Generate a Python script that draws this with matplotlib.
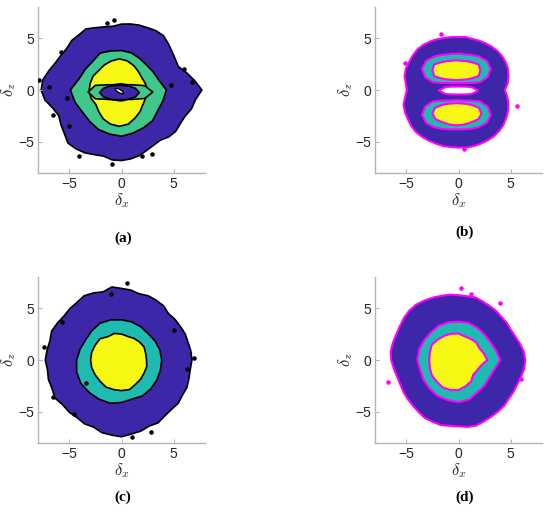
import numpy as np
import matplotlib
matplotlib.use('Agg')
import matplotlib.pyplot as plt

plt.rcParams['font.family'] = 'Liberation Sans'
plt.rcParams['mathtext.fontset'] = 'cm'

# Each region boundary: radius read at evenly spaced angles (starting at 0 deg,
# counter-clockwise) around a centre (delta_x, delta_z).

# ---- panel (a) ----
a_outer_c = (0.0, 0.0)
a_outer_r = [7.7, 7.05, 6.45, 5.9, 5.95, 6.1, 6.33, 6.6, 6.6, 6.5, 6.48, 6.42,
             6.35, 6.2, 6.3, 6.5, 6.8, 6.7, 6.75, 6.6, 6.7, 6.85, 7.2, 7.6,
             7.7, 7.4, 6.8, 6.5, 6.7, 6.9, 7.25, 7.15, 7.0, 6.75, 6.6, 6.8,
             6.8, 6.7, 6.55, 6.3, 6.15, 6.1, 6.4, 6.55, 6.5, 6.6, 6.95, 7.15]
a_green_c = (0.0, 0.0)
a_green_r = [4.3, 3.7, 3.5, 3.4, 3.5, 3.7, 3.8, 3.9, 4.1, 3.9, 4.0, 4.2,
             4.9, 4.6, 4.3, 4.3, 4.4, 4.4, 4.45, 4.3, 4.2, 4.2, 4.0, 4.1]
a_yellow_c = (-0.2, -0.1)
a_yellow_r = [2.7, 2.6, 2.5, 2.6, 2.8, 3.0, 3.1, 3.0, 2.9, 2.8, 2.9, 2.9,
              2.9, 2.8, 2.6, 2.8, 3.1, 3.3, 3.4, 3.3, 3.0, 2.8, 2.6, 2.6]
a_band_c = (-0.1, -0.2)
a_band_r = [3.1, 2.4, 1.4, 1.0, 0.85, 0.8, 0.8, 0.8, 0.85, 1.0, 1.4, 2.5,
            3.1, 2.5, 1.4, 1.05, 0.9, 0.85, 0.85, 0.85, 0.9, 1.0, 1.4, 2.4]
a_blue_c = (-0.2, -0.25)
a_blue_r = [1.9, 1.59, 1.18, 0.93, 0.79, 0.72, 0.7, 0.72, 0.79, 0.93, 1.18, 1.59,
            1.9, 1.59, 1.18, 0.93, 0.79, 0.72, 0.7, 0.72, 0.79, 0.93, 1.18, 1.59]
a_hole_c = (-0.2, -0.1)
a_hole_r = [0.26, 0.2, 0.17, 0.155, 0.15, 0.155, 0.17, 0.2, 0.26, 0.36, 0.45, 0.36,
            0.26, 0.2, 0.17, 0.155, 0.15, 0.155, 0.17, 0.2, 0.26, 0.36, 0.45, 0.36]
a_dots_x = [-0.73, -1.37, -5.8, -6.9, -7.9, -6.6, -5.0, -4.1, -0.9, 2.0, 2.9, 6.75, 5.95, 4.7, -5.2]
a_dots_z = [6.76, 6.5, 3.65, 0.3, 0.95, -2.4, -3.5, -6.35, -7.1, -6.35, -6.2, 0.8, 2.06, 0.48, -0.8]

# ---- panel (b) ----
b_outer_c = (0.0, 0.0)
b_outer_r = [4.45, 4.75, 4.95, 5.15, 5.25, 5.3, 5.3, 5.25, 5.2, 5.15, 5.1, 5.15,
             5.1, 5.15, 5.2, 5.3, 5.4, 5.5, 5.55, 5.5, 5.45, 5.45, 5.35, 5.1,
             4.95, 5.15, 5.45, 5.55, 5.6, 5.7, 5.75, 5.7, 5.65, 5.6, 5.6, 5.55,
             5.55, 5.6, 5.6, 5.6, 5.6, 5.6, 5.55, 5.45, 5.3, 5.15, 4.95, 4.7]
b_hole_c = (0.0, -0.05)
b_hole_r = [1.9, 1.3, 0.75, 0.53, 0.44, 0.4, 0.38, 0.4, 0.44, 0.53, 0.75, 1.3,
            1.9, 1.3, 0.75, 0.53, 0.44, 0.4, 0.38, 0.4, 0.44, 0.53, 0.75, 1.3]
b_tealu_c = (-0.2, 2.05)
b_tealu_r = [3.3, 3.0, 2.4, 1.9, 1.6, 1.5, 1.45, 1.5, 1.6, 1.9, 2.4, 3.0,
             3.3, 3.1, 2.6, 1.95, 1.6, 1.45, 1.4, 1.45, 1.6, 1.95, 2.6, 3.1]
b_yelu_c = (-0.2, 1.9)
b_yelu_r = [2.3, 2.2, 1.6, 1.25, 1.05, 0.98, 0.95, 0.98, 1.05, 1.25, 1.6, 2.2,
            2.3, 2.2, 1.6, 1.25, 1.05, 0.98, 0.95, 0.98, 1.05, 1.25, 1.6, 2.2]
b_teall_c = (-0.2, -2.4)
b_teall_r = [3.3, 3.1, 2.6, 1.95, 1.6, 1.45, 1.45, 1.45, 1.6, 1.95, 2.6, 3.1,
             3.3, 3.0, 2.4, 1.9, 1.6, 1.45, 1.4, 1.45, 1.6, 1.9, 2.4, 3.0]
b_yell_c = (-0.15, -2.3)
b_yell_r = [2.35, 2.2, 1.7, 1.35, 1.15, 1.05, 1.03, 1.05, 1.15, 1.35, 1.7, 2.2,
            2.35, 2.1, 1.6, 1.35, 1.2, 1.12, 1.1, 1.12, 1.2, 1.35, 1.6, 2.1]
b_dots_x = [-1.7, 5.6, 0.5, -5.1]
b_dots_z = [5.4, -1.5, -5.7, 2.6]

# ---- panel (c) ----
c_outer_c = (0.0, 0.0)
c_outer_r = [6.75, 6.7, 6.6, 6.6, 6.5, 6.45, 6.35, 6.6, 6.65, 6.7, 6.6, 6.8,
             6.9, 7.1, 6.8, 7.0, 7.15, 7.0, 7.0, 6.95, 7.1, 7.25, 7.1, 7.2,
             7.3, 7.15, 7.25, 7.2, 7.35, 7.1, 7.1, 7.0, 7.1, 7.0, 7.25, 7.3,
             7.4, 7.2, 7.1, 6.9, 7.0, 6.8, 6.75, 6.85, 6.75, 6.8, 6.7, 6.65]
c_teal_c = (0.0, 0.0)
c_teal_r = [3.85, 3.8, 3.7, 3.6, 3.7, 3.8, 3.87, 4.0, 4.1, 4.0, 3.95, 4.1,
            4.3, 4.45, 4.5, 4.4, 4.35, 4.3, 4.1, 3.9, 4.0, 3.95, 3.9, 3.85]
c_yel_c = (0.0, 0.0)
c_yel_r = [2.4, 2.4, 2.5, 2.45, 2.4, 2.35, 2.5, 2.65, 2.6, 2.9, 2.9, 2.95,
           2.96, 2.95, 2.9, 2.9, 3.0, 2.95, 2.95, 2.95, 2.7, 2.6, 2.5, 2.5]
c_dots_x = [0.54, -7.4, -5.7, -1.05, 6.9, 6.3, -3.4, -6.6, -4.55, 2.8, 1.0, 5.0]
c_dots_z = [7.4, 1.27, 3.7, 6.35, 0.2, -0.9, -2.2, -3.6, -5.2, -6.9, -7.4, 2.9]

# ---- panel (d) ----
d_outer_c = (0.0, 0.0)
d_outer_r = [6.4, 6.3, 6.1, 5.9, 5.8, 5.85, 5.85, 5.95, 6.0, 6.1, 6.25, 6.2,
             6.25, 6.35, 6.4, 6.5, 6.6, 6.7, 6.7, 6.6, 6.5, 6.45, 6.5, 6.55,
             6.45, 6.25, 6.1, 6.05, 6.1, 6.15, 6.2, 6.3, 6.45, 6.45, 6.5, 6.4,
             6.4, 6.5, 6.55, 6.4, 6.3, 6.25, 6.2, 6.1, 6.1, 6.1, 6.2, 6.35]
d_teal_c = (0.0, 0.0)
d_teal_r = [4.0, 3.7, 3.5, 3.5, 3.6, 3.7, 3.7, 3.75, 3.8, 3.75, 3.8, 3.9,
            3.95, 3.8, 3.85, 3.9, 4.0, 4.0, 4.06, 3.95, 3.6, 3.5, 3.4, 3.55]
d_yel_c = (0.0, 0.0)
d_yel_r = [2.76, 2.5, 2.3, 2.4, 2.35, 2.35, 2.55, 2.62, 2.7, 2.8, 2.95, 2.85,
           2.8, 2.85, 2.95, 2.95, 3.05, 3.0, 2.9, 2.62, 2.4, 2.0, 2.05, 2.2]
d_dots_x = [0.2, 1.17, 4.0, -6.8, 6.0]
d_dots_z = [6.9, 6.4, 5.5, -2.16, -1.84]

BLUE = '#3e26a8'
GREEN = '#40c78b'
TEAL = '#20bbb0'
YELLOW = '#f7f714'
MAGENTA = '#ff00ff'


def region(ax, centre, radii, color, edge, lw):
    r = np.array(radii)
    th = np.linspace(0, 2 * np.pi, len(r), endpoint=False)
    x = centre[0] + r * np.cos(th)
    z = centre[1] + r * np.sin(th)
    ax.fill(x, z, facecolor=color, edgecolor=edge, lw=lw, joinstyle='round')


def style(ax, label, labelx, labely, fig):
    ax.set_xlim(-8, 8)
    ax.set_ylim(-8, 8)
    ax.set_xticks([-5, 0, 5])
    ax.set_yticks([-5, 0, 5])
    ax.set_xticklabels(['\u22125', '0', '5'])
    ax.set_yticklabels(['\u22125', '0', '5'])
    for s in ['top', 'right']:
        ax.spines[s].set_visible(False)
    for s in ['left', 'bottom']:
        ax.spines[s].set_color('#b4b4b4')
        ax.spines[s].set_linewidth(1.0)
    ax.tick_params(direction='in', length=3, color='#b4b4b4', labelsize=10,
                   labelcolor='#262626', pad=3)
    ax.set_xlabel(r'$\delta_x$', fontsize=12, color='#262626', labelpad=0)
    ax.set_ylabel(r'$\delta_z$', fontsize=12, color='#262626', labelpad=0)
    fig.text(labelx, labely, label, ha='center', va='center', fontsize=11,
             family='Liberation Serif', fontweight='bold')


fig = plt.figure(figsize=(5.5, 5.18), dpi=100)
W, H = 550.0, 518.0
ax_a = fig.add_axes([38 / W, 1 - 173 / H, 167 / W, 166 / H])
ax_b = fig.add_axes([375 / W, 1 - 173 / H, 167 / W, 166 / H])
ax_c = fig.add_axes([38 / W, 1 - 443 / H, 167 / W, 166 / H])
ax_d = fig.add_axes([375 / W, 1 - 443 / H, 167 / W, 166 / H])

# (a)
region(ax_a, a_outer_c, a_outer_r, BLUE, 'black', 1.2)
region(ax_a, a_green_c, a_green_r, GREEN, 'black', 1.2)
region(ax_a, a_yellow_c, a_yellow_r, YELLOW, 'black', 1.2)
region(ax_a, a_band_c, a_band_r, GREEN, 'black', 1.2)
region(ax_a, a_blue_c, a_blue_r, BLUE, 'black', 1.2)
region(ax_a, a_hole_c, a_hole_r, 'white', 'black', 1.0)
ax_a.scatter(a_dots_x, a_dots_z, s=5, color='black', zorder=3)
style(ax_a, '(a)', 122.7 / W, 1 - 238 / H, fig)

# (b)
region(ax_b, b_outer_c, b_outer_r, BLUE, MAGENTA, 1.5)
region(ax_b, b_hole_c, b_hole_r, 'white', MAGENTA, 1.5)
region(ax_b, b_tealu_c, b_tealu_r, TEAL, MAGENTA, 1.5)
region(ax_b, b_yelu_c, b_yelu_r, YELLOW, MAGENTA, 1.5)
region(ax_b, b_teall_c, b_teall_r, TEAL, MAGENTA, 1.5)
region(ax_b, b_yell_c, b_yell_r, YELLOW, MAGENTA, 1.5)
ax_b.scatter(b_dots_x, b_dots_z, s=5, color=MAGENTA, zorder=3)
style(ax_b, '(b)', 465 / W, 1 - 232 / H, fig)

# (c)
region(ax_c, c_outer_c, c_outer_r, BLUE, 'black', 1.2)
region(ax_c, c_teal_c, c_teal_r, TEAL, 'black', 1.2)
region(ax_c, c_yel_c, c_yel_r, YELLOW, 'black', 1.2)
ax_c.scatter(c_dots_x, c_dots_z, s=5, color='black', zorder=3)
style(ax_c, '(c)', 122.7 / W, 1 - 497 / H, fig)

# (d)
region(ax_d, d_outer_c, d_outer_r, BLUE, MAGENTA, 1.5)
region(ax_d, d_teal_c, d_teal_r, TEAL, MAGENTA, 1.5)
region(ax_d, d_yel_c, d_yel_r, YELLOW, MAGENTA, 1.5)
ax_d.scatter(d_dots_x, d_dots_z, s=5, color=MAGENTA, zorder=3)
style(ax_d, '(d)', 465 / W, 1 - 497 / H, fig)

fig.savefig('out.png', dpi=100)
